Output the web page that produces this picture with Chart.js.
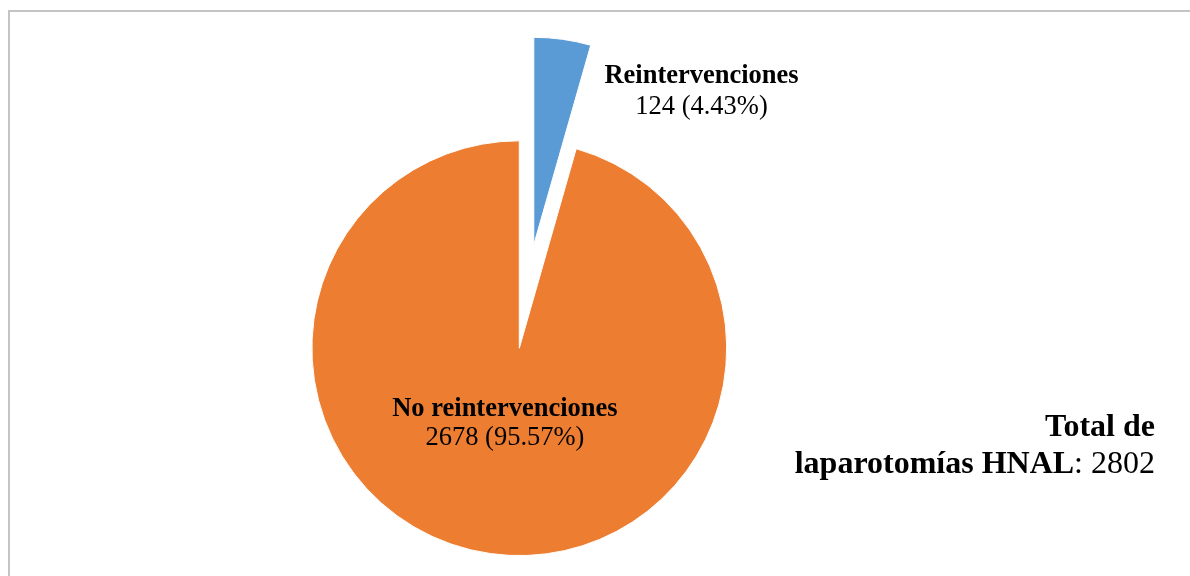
<!DOCTYPE html>
<html>
<head>
<meta charset="utf-8">
<script src="https://cdn.jsdelivr.net/npm/chart.js@4.4.0/dist/chart.umd.min.js"></script>
<style>
  html, body { margin: 0; padding: 0; background: #fff; overflow: hidden; }
  #wrap { position: relative; width: 1190px; height: 576px; }
  #frame { position: absolute; left: 8px; top: 10px; width: 1200px; height: 600px;
           border-left: 2px solid #c4c4c4; border-top: 2px solid #c4c4c4; }
  #myChart { position: absolute; left: 0; top: 0; }
</style>
</head>
<body>
<div id="wrap">
  <div id="frame"></div>
  <canvas id="myChart" width="1190" height="576"></canvas>
</div>
<script>
    var labels = ['Reintervenciones', 'No reintervenciones']
    var values = [124, 2678]
    var percents = ['4.43%', '95.57%']
    var colors = ['#5B9BD5', '#ED7D31']
    var totalLabel = 'laparotomías HNAL'
    var totalValue = 2802

    var explode = 104.5   // distance the first slice is pulled out
    var serif = '"Liberation Serif", "Times New Roman", serif'

    // pull the first slice out of the pie, like Excel's point explosion
    var explodePlugin = {
        id: 'explode',
        afterDatasetUpdate: function(chart, args) {
            var arc = chart.getDatasetMeta(0).data[0]
            if (!arc) return
            var mid = (arc.startAngle + arc.endAngle) / 2
            arc.x = arc.x + Math.cos(mid) * explode
            arc.y = arc.y + Math.sin(mid) * explode
        }
    }

    var labelPlugin = {
        id: 'sliceLabels',
        afterDatasetsDraw: function(chart) {
            var ctx = chart.ctx
            var arcs = chart.getDatasetMeta(0).data
            ctx.save()
            ctx.fillStyle = '#000'
            ctx.textAlign = 'center'
            ctx.textBaseline = 'alphabetic'

            // blue slice: label outside, to the upper right
            var a = arcs[0]
            var mid = (a.startAngle + a.endAngle) / 2
            var ox = a.x + Math.cos(mid) * a.outerRadius
            var oy = a.y + Math.sin(mid) * a.outerRadius
            ctx.font = 'bold 26.5px ' + serif
            ctx.fillText(labels[0], ox + 139, oy + 44)
            ctx.font = '26.5px ' + serif
            ctx.fillText(values[0] + ' (' + percents[0] + ')', ox + 139, oy + 74.5)

            // orange slice: label inside
            var p = arcs[1].tooltipPosition()
            ctx.font = 'bold 26.5px ' + serif
            ctx.fillText(labels[1], p.x, p.y - 35)
            ctx.font = '26.5px ' + serif
            ctx.fillText(values[1] + ' (' + percents[1] + ')', p.x, p.y - 6)

            // total annotation, right aligned
            var right = 1155
            ctx.textAlign = 'right'
            ctx.font = 'bold 32px ' + serif
            ctx.fillText('Total de', right, 436)
            ctx.font = '32px ' + serif
            var tail = ': ' + totalValue
            ctx.fillText(tail, right, 473)
            var w = ctx.measureText(tail).width
            ctx.font = 'bold 32px ' + serif
            ctx.fillText(totalLabel, right - w, 473)
            ctx.restore()
        }
    }

    var ctx = document.getElementById('myChart').getContext('2d');
    var myChart = new Chart(ctx, {
        type: 'pie',
        data: {
            labels: labels,
            datasets: [{
                data: values,
                backgroundColor: colors,
                borderColor: '#ffffff',
                borderWidth: 1
            }]
        },
        options: {
            responsive: false,
            animation: false,
            radius: 207.4,
            layout: {
                padding: { left: 100, right: 251.4, top: 130.2, bottom: 9.8 }
            },
            plugins: {
                legend: { display: false },
                tooltip: { enabled: false }
            }
        },
        plugins: [explodePlugin, labelPlugin]
    });
</script>
</body>
</html>
